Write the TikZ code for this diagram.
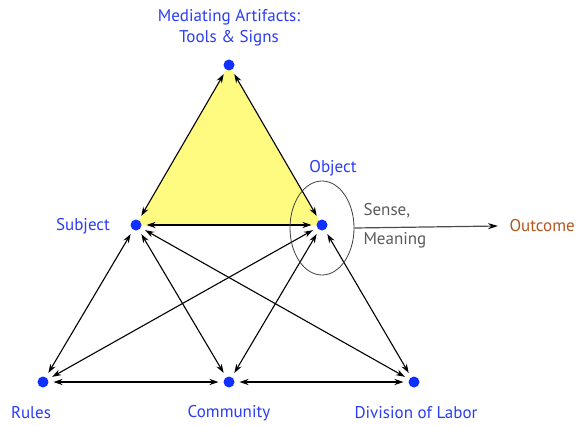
\documentclass[tikz,border=0pt]{standalone}
\usepackage{fontspec}
\setmainfont{PT Sans}
\usetikzlibrary{arrows.meta,shapes.geometric}
\definecolor{dotblue}{HTML}{1030FF}
\definecolor{labelblue}{HTML}{2A3CF5}
\definecolor{triyellow}{HTML}{FFFA80}
\definecolor{outbrown}{HTML}{B4561E}
\definecolor{sensegray}{HTML}{5A5A5A}
\begin{document}
\begin{tikzpicture}[x=1pt,y=-1pt,
  vertex/.style={circle,fill=dotblue,inner sep=0pt,minimum size=11pt,outer sep=5pt},
  lab/.style={text=labelblue,font=\fontsize{17}{21}\selectfont},
  link/.style={{Stealth[length=9pt,width=6pt]}-{Stealth[length=9pt,width=6pt]},line width=1.1pt,black},
  note/.style={text=sensegray,font=\fontsize{17}{21}\selectfont,align=left}]
\useasboundingbox (0,0) rectangle (580,425);
% mediating triangle
\fill[triyellow] (229,65) -- (136,225) -- (322,225) -- cycle;
% activity system vertices
\node[vertex] (T) at (229,65) {};
\node[vertex] (S) at (136,225) {};
\node[vertex] (O) at (322,225) {};
\node[vertex] (R) at (43,382) {};
\node[vertex] (C) at (229,382) {};
\node[vertex] (D) at (414,382) {};
% relations
\draw[link] (S) -- (T);
\draw[link] (O) -- (T);
\draw[link] (S) -- (O);
\draw[link] (S) -- (R);
\draw[link] (S) -- (C);
\draw[link] (S) -- (D);
\draw[link] (O) -- (R);
\draw[link] (O) -- (C);
\draw[link] (O) -- (D);
\draw[link] (R) -- (C);
\draw[link] (C) -- (D);
% sense around the object
\node[draw=black!75,line width=0.8pt,ellipse,minimum width=64pt,minimum height=94pt,inner sep=0pt] (E) at (322,228) {};
\node[text=outbrown,font=\fontsize{17}{21}\selectfont,anchor=west] (out) at (506,226) {Outcome};
\draw[line width=1.2pt,black!70,-{Stealth[length=10pt,width=6pt,black]}] (E.east) -- (498,226);
\node[note,anchor=west] (sense) at (360,211) {Sense,};
\node[note,anchor=west] (mean) at (360,240) {Meaning};
% labels
\node[lab,align=center] (tl) at (229,28) {Mediating Artifacts:\\Tools \& Signs};
\node[lab] (ol) at (333,168) {Object};
\node[lab] (sl) at (83,226) {Subject};
\node[lab] (rl) at (31,413) {Rules};
\node[lab] (cl) at (229,413) {Community};
\node[lab] (dl) at (416,413) {Division of Labor};
\end{tikzpicture}
\end{document}
